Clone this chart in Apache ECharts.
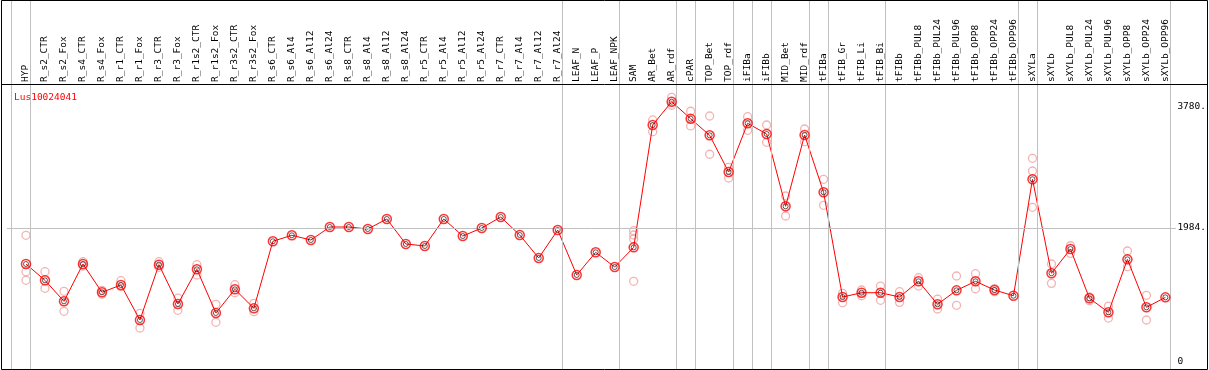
<!DOCTYPE html>
<html><head><meta charset="utf-8">
<script src="https://cdn.jsdelivr.net/npm/echarts@6/dist/echarts.min.js"></script>
<style>html,body{margin:0;padding:0;background:#fff}#c{width:1209px;height:370px}</style>
</head><body><div id="c"></div>
<script>
const geneName = 'Lus10024041';
const categories = ['HYP','R_s2_CTR','R_s2_Fox','R_s4_CTR','R_s4_Fox','R_r1_CTR','R_r1_Fox','R_r3_CTR','R_r3_Fox','R_r1s2_CTR','R_r1s2_Fox','R_r3s2_CTR','R_r3s2_Fox','R_s6_CTR','R_s6_Al4','R_s6_Al12','R_s6_Al24','R_s8_CTR','R_s8_Al4','R_s8_Al12','R_s8_Al24','R_r5_CTR','R_r5_Al4','R_r5_Al12','R_r5_Al24','R_r7_CTR','R_r7_Al4','R_r7_Al12','R_r7_Al24','LEAF_N','LEAF_P','LEAF_NPK','SAM','AR_Bet','AR_rdf','cPAR','TOP_Bet','TOP_rdf','iFIBa','iFIBb','MID_Bet','MID_rdf','tFIBa','tFIB_Gr','tFIB_Li','tFIB_Bi','tFIBb','tFIBb_PUL8','tFIBb_PUL24','tFIBb_PUL96','tFIBb_OPP8','tFIBb_OPP24','tFIBb_OPP96','sXYLa','sXYLb','sXYLb_PUL8','sXYLb_PUL24','sXYLb_PUL96','sXYLb_OPP8','sXYLb_OPP24','sXYLb_OPP96'];
const meanValues = [1450,1208,896,1450,1030,1138,619,1440,856,1371,723,1074,792,1787,1876,1806,1999,1999,1969,2118,1747,1717,2118,1865,1984,2147,1880,1539,1954,1287,1623,1405,1697,3512,3858,3606,3359,2815,3537,3379,2306,3364,2514,960,1024,1024,960,1193,852,1059,1193,1064,979,2707,1312,1672,941,733,1519,807,955];
const replicateValues = [
  [1876,1336,1208],[1336,1089],[1045,748],[1484,1420],[1060,1000],[1202,1113],[718,500],[1484,1401],[945,763],[1440,1287],[852,585],[1143,1024],[866,742],
  [],[],[],[],[],[],[],[],[],[],[],[],[],[],[],[],[],[],[],
  [1944,1880,1821,1193],[3587,3413],[3923,3805],[3716,3498],[3646,3078],[2885,2726],[3636,3434],[3512,3256],[2459,2162],[3453,3265],[2707,2321],
  [1015,876],[1064,979],[1123,911],[1039,881],[1247,1123],[930,782],[1272,837],[1306,1083],[1084,1040],[],
  [3018,2830,2291],[1450,1163],[1721,1608],[905,960],[826,648],[1643,1410],[985,619],[]
];
const groupEnds = [-1,0,28,31,34,35,37,38,39,41,42,45,52,53,60];
const yTickValues = [0,1984,3780];
const yTickLabels = ['0','1984.','3780.'];
const refLineValue = 1984;

const FONT = "'DejaVu Sans Mono', monospace";
const sepOffset = 0.237;
const repPoints = [];
replicateValues.forEach((vals, i) => vals.forEach(v => repPoints.push([i, v])));
const meanPoints = meanValues.map((v, i) => [i, v]);

const chart = echarts.init(document.getElementById('c'), null, {renderer: 'canvas'});
chart.setOption({
  animation: false,
  backgroundColor: '#fff',
  title: {text: geneName, left: 9, top: 88, textStyle: {color: '#ff0000', fontFamily: FONT, fontSize: 9.5, fontWeight: 'normal'}},
  grid: [
    {left: 7, right: 24, top: 0, bottom: 1},
    {left: 16.5, right: 33.5, top: 84, height: 10}
  ],
  xAxis: [
    {type: 'value', gridIndex: 0, min: -1, max: 61, show: false},
    {type: 'category', gridIndex: 1, position: 'top', data: categories, boundaryGap: true,
     axisLine: {show: false}, axisTick: {show: false}, splitLine: {show: false},
     axisLabel: {interval: 0, rotate: 90, margin: 2, fontFamily: FONT, fontSize: 9.5, color: '#000'}}
  ],
  yAxis: [
    {type: 'value', gridIndex: 0, min: -108, max: 5367, position: 'right',
     splitLine: {show: false}, axisLine: {show: false}, axisTick: {show: false},
     axisLabel: {inside: true, align: 'left', margin: 7, customValues: yTickValues,
       formatter: v => { const k = yTickValues.indexOf(v); return k >= 0 ? yTickLabels[k] : ''; },
       fontFamily: FONT, fontSize: 9.5, color: '#000'}},
    {type: 'value', gridIndex: 1, show: false}
  ],
  series: [
    {type: 'line', xAxisIndex: 0, yAxisIndex: 0, data: [], z: 1, silent: true,
     markLine: {silent: true, symbol: ['none', 'none'], label: {show: false},
       lineStyle: {color: '#c0c0c0', type: 'solid', width: 1},
       emphasis: {disabled: true},
       data: groupEnds.map(g => ({xAxis: g + sepOffset})).concat([[{coord: [-1, refLineValue]}, {coord: [60.55, refLineValue]}]])}},
    {type: 'scatter', xAxisIndex: 0, yAxisIndex: 0, data: repPoints, z: 2, silent: true,
     symbol: 'circle', symbolSize: 8,
     itemStyle: {color: 'rgba(0,0,0,0)', borderColor: '#f0a0a0', borderWidth: 1.3}},
    {type: 'line', xAxisIndex: 0, yAxisIndex: 0, data: meanPoints, z: 3, silent: true,
     showSymbol: false, lineStyle: {color: '#ff0000', width: 1}},
    {type: 'scatter', xAxisIndex: 0, yAxisIndex: 0, data: meanPoints, z: 4, silent: true,
     symbol: 'circle', symbolSize: 5,
     itemStyle: {color: 'rgba(0,0,0,0)', borderColor: '#000', borderWidth: 0.8}},
    {type: 'scatter', xAxisIndex: 0, yAxisIndex: 0, data: meanPoints, z: 5, silent: true,
     symbol: 'circle', symbolSize: 9,
     itemStyle: {color: 'rgba(0,0,0,0)', borderColor: '#ff0000', borderWidth: 1.5}}
  ],
  graphic: [
    {type: 'rect', z: 100, silent: true, shape: {x: 1.5, y: 0.5, width: 1206, height: 369}, style: {fill: 'none', stroke: '#000', lineWidth: 1}},
    {type: 'line', z: 100, silent: true, shape: {x1: 1, y1: 84.5, x2: 1208, y2: 84.5}, style: {stroke: '#000', lineWidth: 1}}
  ]
});
</script></body></html>
